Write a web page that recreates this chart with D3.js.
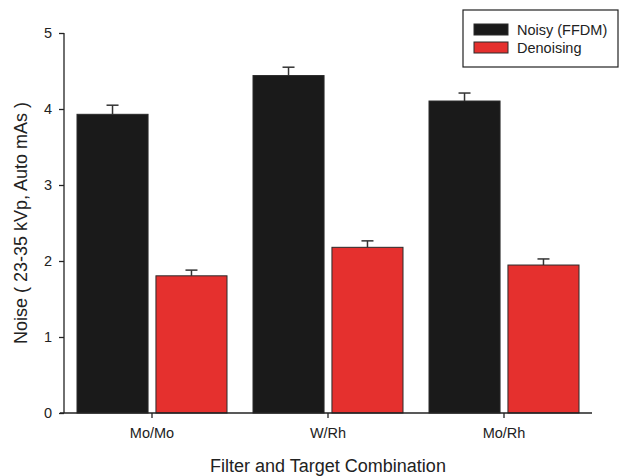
<!DOCTYPE html>
<html>
<head>
<meta charset="utf-8">
<script src="https://cdn.jsdelivr.net/npm/d3@7"></script>
<style>
  html, body { margin: 0; padding: 0; background: #fff; }
  svg { display: block; font-family: "Liberation Sans", Arial, sans-serif; }
</style>
</head>
<body>
<svg id="chart" width="621" height="476"></svg>
<script>
// Noise level per filter/target combination
const categories = ["Mo/Mo", "W/Rh", "Mo/Rh"];
const seriesNames = ["Noisy (FFDM)", "Denoising"];
const noisyValues = [3.93, 4.44, 4.105];
const noisyErrors = [0.12, 0.11, 0.105];
const denoisedValues = [1.805, 2.18, 1.947];
const denoisedErrors = [0.075, 0.085, 0.08];
const yTicks = [0, 1, 2, 3, 4, 5];
const colors = ["#1a1a1a", "#e5302e"];

const svg = d3.select("#chart");
const plotLeft = 64, plotRight = 592, plotTop = 33, plotBottom = 413;

const x0 = d3.scaleBand().domain(categories).range([plotLeft, plotRight]);
const x1 = d3.scaleBand().domain([0, 1])
  .range([13, x0.bandwidth() - 13]).paddingInner(0.1);
const y = d3.scaleLinear().domain([0, 5]).range([plotBottom, plotTop]);

const rows = categories.map((c, i) => ({
  cat: c,
  vals: [
    { s: 0, v: noisyValues[i], e: noisyErrors[i] },
    { s: 1, v: denoisedValues[i], e: denoisedErrors[i] }
  ]
}));

const groups = svg.append("g").selectAll("g").data(rows).join("g")
  .attr("transform", d => `translate(${x0(d.cat)},0)`);

// error bars (upper whisker only)
groups.selectAll("g.err").data(d => d.vals).join("g").attr("class", "err")
  .each(function(d) {
    const g = d3.select(this);
    const cx = x1(d.s) + x1.bandwidth() / 2;
    g.append("line").attr("x1", cx).attr("x2", cx)
      .attr("y1", y(d.v)).attr("y2", y(d.v + d.e))
      .attr("stroke", "#333").attr("stroke-width", 1.5);
    g.append("line").attr("x1", cx - 6).attr("x2", cx + 6)
      .attr("y1", y(d.v + d.e)).attr("y2", y(d.v + d.e))
      .attr("stroke", "#333").attr("stroke-width", 1.5);
  });

groups.selectAll("rect").data(d => d.vals).join("rect")
  .attr("x", d => x1(d.s))
  .attr("width", x1.bandwidth())
  .attr("y", d => y(d.v))
  .attr("height", d => y(0) - y(d.v))
  .attr("fill", d => colors[d.s])
  .attr("stroke", "#2a2a2a")
  .attr("stroke-width", 1);

// axes
const yAxis = svg.append("g").attr("transform", `translate(${plotLeft},0)`)
  .call(d3.axisLeft(y).tickValues(yTicks).tickFormat(d3.format("d")).tickSize(5).tickPadding(7));
const xAxis = svg.append("g").attr("transform", `translate(0,${plotBottom})`)
  .call(d3.axisBottom(x0).tickSize(5).tickPadding(10).tickSizeOuter(0));

[yAxis, xAxis].forEach(a => {
  a.select(".domain").attr("stroke", "#222").attr("stroke-width", 1.3);
  a.selectAll(".tick line").attr("stroke", "#222").attr("stroke-width", 1.3);
  a.selectAll(".tick text").attr("fill", "#222")
    .style("font-family", "Liberation Sans, Arial, sans-serif").style("font-size", "14.5px");
});
// plain axis lines without outer ticks
yAxis.select(".domain").attr("d", `M0,${plotTop}V${plotBottom}`);
xAxis.select(".domain").attr("d", `M${plotLeft - 4},0H${plotRight}`);

// axis titles
svg.append("text")
  .attr("transform", `translate(27,${(plotTop + plotBottom) / 2}) rotate(-90)`)
  .attr("text-anchor", "middle")
  .attr("fill", "#222")
  .style("font-size", "18px")
  .text("Noise ( 23-35 kVp, Auto mAs )");

svg.append("text")
  .attr("x", (plotLeft + plotRight) / 2).attr("y", 472)
  .attr("text-anchor", "middle")
  .attr("fill", "#222")
  .style("font-size", "18px")
  .text("Filter and Target Combination");

// legend
const lg = svg.append("g");
lg.append("rect").attr("x", 463).attr("y", 10).attr("width", 155).attr("height", 57)
  .attr("fill", "#fff").attr("stroke", "#222").attr("stroke-width", 1.2);
seriesNames.forEach((name, i) => {
  lg.append("rect").attr("x", 474).attr("y", 24 + i * 18).attr("width", 34).attr("height", 11)
    .attr("fill", colors[i]).attr("stroke", "#2a2a2a").attr("stroke-width", 1);
  lg.append("text").attr("x", 517).attr("y", 34.5 + i * 18)
    .attr("fill", "#222").style("font-size", "14.5px").text(name);
});
</script>
</body>
</html>
